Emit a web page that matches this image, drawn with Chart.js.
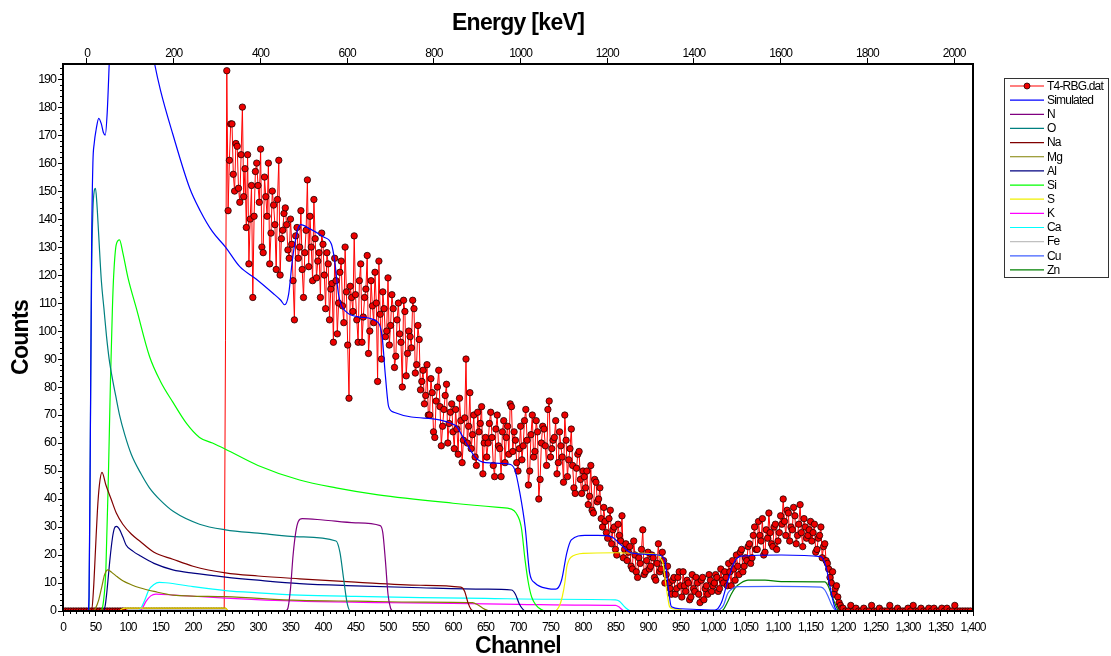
<!DOCTYPE html>
<html>
<head>
<meta charset="utf-8">
<title>Espectro RBS</title>
<script src="https://cdn.jsdelivr.net/npm/chart.js@4.4.1/dist/chart.umd.min.js"></script>
<style>
  html, body { margin: 0; padding: 0; background: #fff; }
  #contenedorGrafico { width: 1111px; height: 656px; }
</style>
</head>
<body>
<div id="contenedorGrafico"><canvas id="graficoEspectro" width="1111" height="656"></canvas></div>
<script>
// Datos experimentales (T4-RBG.dat): un valor cada 4 canales desde el canal 0
const canalInicio = 0;
const pasoCanal = 4;
const conteosExp = [
  0,0,0,0,0,0,0,0,0,0,0,0,0,0,0,0,0,0,0,0,0,0,0,0,0,0,0,0,0,0,0,0,
  0,0,0,0,0,0,0,0,0,0,0,0,0,0,0,0,0,0,0,0,0,0,0,0,0,0,0,0,0,0,0,
  193, 161, 174, 150, 166, 146, 180, 158, 163, 140, 112, 157,
  152, 165, 128, 148, 160, 135, 145, 122, 161, 133, 142,
  138, 126, 131, 104, 137, 130, 122, 128, 154, 141, 118, 133, 125, 112,
  131, 108, 124, 115, 96, 118, 110, 125, 103, 114, 76, 112,
  134, 104, 118, 96, 112, 127, 100, 109, 121, 82, 106, 114, 98,
  119, 102, 108, 91, 110, 96, 111, 84, 100, 94, 108, 88, 97,
  82, 74, 88, 70, 78, 62, 80, 73, 66, 77, 60, 71, 64,
  72, 56, 68, 61, 90, 66, 58, 70, 52, 64, 73, 60,
  55, 67, 62, 48, 70, 58, 64, 53, 66, 74, 57, 61, 50,
  66, 59, 72, 45, 63, 55, 68, 40, 60, 65, 52, 75, 58, 62, 49,
  64, 55, 70, 48, 58, 52, 42, 56, 47, 50,
  44, 38, 52, 35, 46, 40, 33,
  37, 28, 33, 24, 30, 20, 27, 34, 22,
  18, 23, 15, 20, 12, 17, 29, 14, 21, 16, 19, 11, 24, 15, 18, 13,
  10, 6, 12, 8, 14, 5, 9, 11, 4, 13, 7, 10, 3, 12, 8, 6, 11, 9, 13, 7, 15, 10,
  12, 17, 9, 15, 20, 13, 22, 16, 18,
  24, 19, 30, 22, 27, 33, 21, 26, 28, 23, 31, 25, 34,
  40, 27, 35, 30, 37, 24, 31, 28, 33, 26, 29,
  25, 31, 22, 27, 19, 24,
  17, 12, 14, 8, 5, 2,
  1, 0, 0, 2, 0, 1, 0, 0, 1, 0, 0, 2, 0, 0, 1, 0, 0, 0, 2, 0, 0, 1, 0, 0, 0,
  1, 0, 2, 0, 0, 1, 0, 0, 1, 0, 1, 0, 0, 1, 0, 1, 0, 0, 2, 0, 0, 0, 0, 0, 0
];
// Canales intermedios (254, 258, ... 1198)
const canalInicioMedios = 254;
const conteosExpMedios = [
  143, 174, 156, 167, 151, 163, 148, 137, 124, 152, 141, 160,
  146, 130, 155, 141, 124, 150, 138, 147, 120, 136, 144,
  129, 140, 118, 134, 126, 143, 112, 136, 123, 130, 147, 119, 128, 135,
  120, 128, 104, 117, 126, 99, 121, 109, 130, 95, 116, 107,
  113, 96, 124, 105, 115, 92, 118, 103, 110, 125, 90, 108, 100,
  95, 113, 87, 104, 99, 80, 107, 92, 98, 111, 85, 102, 79,
  86, 77, 70, 83, 64, 75, 86, 59, 72, 81, 67, 74, 58,
  65, 76, 53, 69, 60, 78, 63, 55, 71, 67, 49, 62,
  60, 71, 52, 65, 59, 48, 68, 62, 56, 73, 64, 53, 58,
  54, 68, 61, 50, 70, 57, 64, 47, 66, 59, 72, 55, 61, 68, 53,
  59, 46, 61, 54, 65, 44, 51, 57, 42, 48,
  50, 41, 36, 47, 39, 44, 30,
  32, 26, 36, 29, 22, 31, 25, 19, 24,
  21, 16, 25, 14, 19, 22, 13, 18, 15, 20, 12, 17, 14, 21, 10, 16,
  8, 11, 6, 12, 9, 14, 7, 10, 5, 8, 12, 6, 11, 4, 9, 13, 7, 10, 12, 8, 11, 14,
  9, 14, 18, 11, 16, 21, 14, 19, 23,
  17, 27, 22, 32, 25, 20, 29, 35, 24, 30, 22, 28, 31,
  32, 36, 25, 29, 34, 27, 38, 23, 30, 27, 32,
  28, 21, 26, 30, 23, 18,
  15, 10, 6, 9, 3, 1
];

// Curvas simuladas: pares [canal, cuentas]
const simulado = [[0,0],[38,0],[40,5],[42,60],[44,130],[46,160],[48,167],[51,172],[55,176],[59,174],[62,171],[65,170],[68,178],[71,195],[74,215],[85,245],[110,235],[130,210],[141,195.4],[150,186],[169,170.3],[195,151],[211,143],[230,135.5],[250,130],[272,123],[297,118.6],[323,113.5],[335,111],[341,109.4],[347,113],[353,125.6],[358,133],[362,137],[366,138],[380,136.5],[401,133.6],[413,131],[418,125],[424,113],[435,107],[458,105],[485,103],[491,98],[496,84],[501,73],[509,71],[536,69.3],[603,66.4],[618,61],[634,55],[650,53],[685,52.5],[695,50.5],[703,42],[711,30],[718,13.5],[726,10],[746,8],[758,7.8],[767,11],[775,20.7],[782,25.4],[803,27],[823,27],[844,26.5],[859,23.5],[875,20.7],[916,20],[926,18],[931,8.6],[936,1.5],[950,0.8],[980,0.5],[1003,0.3],[1013,3],[1023,11],[1033,17.6],[1043,19.6],[1105,20],[1166,19.4],[1174,15.7],[1180,8.7],[1187,1.6],[1192,0],[1400,0]];
const curvaN = [[0,0],[342,0],[346,1],[350,8],[354,20],[358,28],[362,32],[368,33],[400,32.5],[450,31.5],[488,30.5],[492,28],[496,18],[500,6],[504,1],[508,0],[1400,0]];
const curvaO = [[0,0],[40,0],[42,60],[44,120],[46,143],[48,150],[50,151],[52,146],[55,134],[59,118],[63,108],[67,98],[71,90],[76,83],[81,77],[87,70],[95,63],[105,56],[120,49],[133,44],[150,39.5],[170,35.5],[210,31],[250,29],[300,27.8],[364,26.5],[420,25],[426,21],[432,11],[437,3],[442,0],[1400,0]];
const curvaNa = [[0,0],[44,0],[47,8],[50,22],[53,36],[56,45],[60,49.5],[66,45],[74,40],[82,35],[92,31],[105,27.5],[118,25],[140,21],[169,18.5],[200,16],[250,13.6],[300,12.5],[364,11.5],[450,10.3],[550,9.2],[612,8.5],[618,7],[623,3],[628,0.5],[632,0],[1400,0]];
const curvaMg = [[0,0],[46,0],[50,1],[55,4],[60,9],[64,13],[69,14.7],[75,13.8],[83,12.3],[92,10.8],[105,9.4],[118,8.3],[140,7],[169,5.7],[250,5.1],[364,3.8],[450,3.5],[550,3.2],[630,3],[638,2.2],[646,1],[652,0.3],[656,0],[1400,0]];
const curvaAl = [[0,0],[62,0],[65,2],[68,8],[72,18],[76,26],[79,29.5],[82,30.2],[86,29.5],[92,26.5],[97,23.6],[108,21.3],[118,19.8],[140,17],[169,14.7],[200,13.5],[250,12.1],[300,11],[364,9.8],[450,9],[550,8.3],[650,7.8],[690,7.5],[696,6],[702,2.5],[708,0.5],[712,0],[1400,0]];
const curvaSi = [[0,0],[58,0],[62,3],[66,15],[70,50],[73,82],[76,108],[78,120],[82,131],[87,132.6],[92,128],[100,119],[113,108],[133,91],[150,82],[169,74.6],[190,67],[210,62],[230,60],[250,57.8],[300,52],[364,46.8],[420,44],[485,41.5],[600,38.5],[670,37],[690,36.4],[697,35],[705,30],[711,18],[716,10],[721,5],[728,2],[736,0.5],[742,0],[1400,0]];
const curvaS = [[0,0],[86,0],[90,0.6],[96,1],[250,1],[253,0.3],[256,0],[756,0],[760,0.5],[764,2],[768,5],[772,10],[775,15.7],[778,18],[782,19.3],[790,20.2],[800,20.6],[850,20.8],[900,20.5],[916,20],[920,18.5],[923,17],[926,12],[928,8.6],[931,4],[933,1.6],[938,0.8],[950,0.5],[955,0],[1400,0]];
const curvaK = [[0,0],[118,0],[122,1],[128,3.5],[135,5.4],[143,6],[170,5.7],[250,4.6],[364,3.5],[500,3],[600,2.7],[700,2.4],[800,2.1],[850,2],[855,1.5],[860,0.5],[864,0],[1400,0]];
const curvaCa = [[0,0],[116,0],[120,1],[126,4],[132,7.5],[140,9.5],[148,10.2],[158,10.1],[200,8.7],[250,7.3],[300,6.5],[364,5.7],[450,5.2],[550,4.8],[650,4.5],[750,4.2],[850,4],[856,3.5],[862,2],[868,0.7],[874,0],[1400,0]];
const curvaFe = [[0,0],[95,0],[100,0.5],[250,0.5],[254,0],[1400,0]];
const curvaCu = [[0,0],[1004,0],[1010,0.5],[1016,2],[1023,6.4],[1030,8],[1038,8.7],[1100,8.8],[1166,8.5],[1172,7.5],[1177,5.3],[1182,2.5],[1187,0.6],[1192,0],[1400,0]];
const curvaZn = [[0,0],[1010,0],[1016,0.5],[1022,3],[1028,6],[1035,8.5],[1043,10],[1054,11],[1080,11],[1105,10.5],[1172,10.4],[1177,9],[1182,6],[1187,3],[1192,0.5],[1196,0],[1400,0]];

// Ejes
const ticksCanal = { min: 0, max: 1400, paso: 50 };
const ticksEnergia = { min: -55.3, max: 2043.7, paso: 200 };
const ticksCuentas = { min: 0, max: 195.4, paso: 10 };

const fuente = "'Liberation Sans', Arial, sans-serif";

function aPuntos(pares) {
  return pares.map(([x, y]) => ({ x: x, y: y }));
}

function curva(etiqueta, pares, color) {
  return {
    label: etiqueta,
    data: aPuntos(pares),
    borderColor: color,
    backgroundColor: color,
    borderWidth: 1.2,
    pointRadius: 0,
    cubicInterpolationMode: 'monotone',
    order: 1
  };
}

// Unir las dos series de canales y ordenar por canal
const puntosExp = conteosExp.map((c, i) => ({ x: canalInicio + i * pasoCanal, y: c }))
  .concat(conteosExpMedios.map((c, i) => ({ x: canalInicioMedios + i * pasoCanal, y: c })))
  .sort((a, b) => a.x - b.x);

const datasets = [
  {
    label: 'T4-RBG.dat',
    data: puntosExp,
    borderColor: '#ff0000',
    backgroundColor: '#ff0000',
    borderWidth: 1,
    pointRadius: 3.2,
    pointBackgroundColor: '#ee0000',
    pointBorderColor: '#200000',
    pointBorderWidth: 0.8,
    clip: 0,
    order: 3
  },
  Object.assign(curva('Simulated', simulado, '#0000ff'), { order: 0 }),
  curva('N', curvaN, '#800080'),
  curva('O', curvaO, '#008080'),
  curva('Na', curvaNa, '#800000'),
  curva('Mg', curvaMg, '#808000'),
  curva('Al', curvaAl, '#000080'),
  curva('Si', curvaSi, '#00ff00'),
  curva('S', curvaS, '#f0f000'),
  curva('K', curvaK, '#ff00ff'),
  curva('Ca', curvaCa, '#00ffff'),
  curva('Fe', curvaFe, '#c0c0c0'),
  curva('Cu', curvaCu, '#4060ff'),
  curva('Zn', curvaZn, '#008000')
];

// Ticks menores, marco, títulos y leyenda
const decoracion = {
  id: 'decoracion',
  beforeDraw(chart) {
    chart.ctx.letterSpacing = '-1px';
  },
  afterDraw(chart) {
    const ctx = chart.ctx;
    const area = chart.chartArea;
    const xs = chart.scales.x;
    const ys = chart.scales.y;
    ctx.save();
    ctx.strokeStyle = '#000';
    ctx.lineWidth = 1;
    ctx.beginPath();
    for (let c = ticksCanal.min; c <= ticksCanal.max; c += 10) {
      if (c % ticksCanal.paso === 0) continue;
      const px = Math.round(xs.getPixelForValue(c)) + 0.5;
      ctx.moveTo(px, area.bottom);
      ctx.lineTo(px, area.bottom + 3);
    }
    for (let v = 0; v <= ticksCuentas.max; v += 2) {
      if (v % ticksCuentas.paso === 0) continue;
      const py = Math.round(ys.getPixelForValue(v)) + 0.5;
      ctx.moveTo(area.left, py);
      ctx.lineTo(area.left - 3, py);
    }
    ctx.stroke();

    ctx.lineWidth = 2;
    ctx.strokeRect(area.left, area.top, area.right - area.left, area.bottom - area.top);

    // Títulos de los ejes
    ctx.fillStyle = '#000';
    ctx.textAlign = 'center';
    ctx.textBaseline = 'middle';
    ctx.letterSpacing = '-0.7px';
    ctx.font = 'bold 23px ' + fuente;
    const centroX = (area.left + area.right) / 2;
    ctx.fillText('Energy [keV]', centroX, 24);
    ctx.fillText('Channel', centroX, 647);
    ctx.save();
    ctx.translate(22, (area.top + area.bottom) / 2);
    ctx.rotate(-Math.PI / 2);
    ctx.font = 'bold 23px ' + fuente;
    ctx.fillText('Counts', 0, 0);
    ctx.restore();

    // Leyenda
    const caja = { x: 1004, y: 78, w: 104, h: 199 };
    ctx.lineWidth = 1;
    ctx.strokeStyle = '#333';
    ctx.strokeRect(caja.x + 0.5, caja.y + 0.5, caja.w, caja.h);
    ctx.font = '12px ' + fuente;
    ctx.letterSpacing = '-0.8px';
    ctx.textAlign = 'left';
    chart.data.datasets.forEach((ds, i) => {
      const y = 86 + i * 14.15;
      ctx.strokeStyle = ds.borderColor;
      ctx.lineWidth = 1.2;
      ctx.beginPath();
      ctx.moveTo(1010, y);
      ctx.lineTo(1044, y);
      ctx.stroke();
      if (ds.pointRadius > 0) {
        ctx.beginPath();
        ctx.arc(1027, y, 3, 0, Math.PI * 2);
        ctx.fillStyle = ds.pointBackgroundColor;
        ctx.fill();
        ctx.lineWidth = 0.8;
        ctx.strokeStyle = ds.pointBorderColor;
        ctx.stroke();
      }
      ctx.fillStyle = '#000';
      ctx.fillText(ds.label, 1047, y + 0.5);
    });
    ctx.restore();
  }
};

const ctxGrafico = document.getElementById('graficoEspectro').getContext('2d');

new Chart(ctxGrafico, {
  type: 'line',
  data: { datasets: datasets },
  options: {
    responsive: false,
    animation: false,
    layout: { padding: { left: 0, right: 138, top: 0, bottom: 0 } },
    plugins: {
      legend: { display: false },
      tooltip: { enabled: false }
    },
    scales: {
      x: {
        type: 'linear',
        position: 'bottom',
        min: ticksCanal.min,
        max: ticksCanal.max,
        afterFit: s => { s.height = 45; },
        border: { display: false },
        grid: { drawOnChartArea: false, drawTicks: true, tickLength: 5, color: '#000' },
        ticks: {
          stepSize: ticksCanal.paso,
          autoSkip: false,
          maxRotation: 0,
          includeBounds: false,
          padding: 4,
          color: '#000',
          font: { family: fuente, size: 12 },
          callback: v => v.toLocaleString('en-US')
        }
      },
      xEnergia: {
        type: 'linear',
        position: 'top',
        min: ticksEnergia.min,
        max: ticksEnergia.max,
        afterFit: s => { s.height = 64; },
        border: { display: false },
        grid: { drawOnChartArea: false, drawTicks: true, tickLength: 6, color: '#000' },
        ticks: {
          stepSize: ticksEnergia.paso,
          autoSkip: false,
          maxRotation: 0,
          includeBounds: false,
          padding: -3,
          color: '#000',
          font: { family: fuente, size: 12 },
          callback: v => String(v)
        }
      },
      y: {
        type: 'linear',
        min: ticksCuentas.min,
        max: ticksCuentas.max,
        afterFit: s => { s.width = 63; },
        border: { display: false },
        grid: { drawOnChartArea: false, drawTicks: true, tickLength: 5, color: '#000' },
        ticks: {
          stepSize: ticksCuentas.paso,
          autoSkip: false,
          includeBounds: false,
          padding: 2,
          color: '#000',
          font: { family: fuente, size: 12.5 },
          callback: v => String(v)
        }
      }
    }
  },
  plugins: [decoracion]
});
</script>
</body>
</html>
